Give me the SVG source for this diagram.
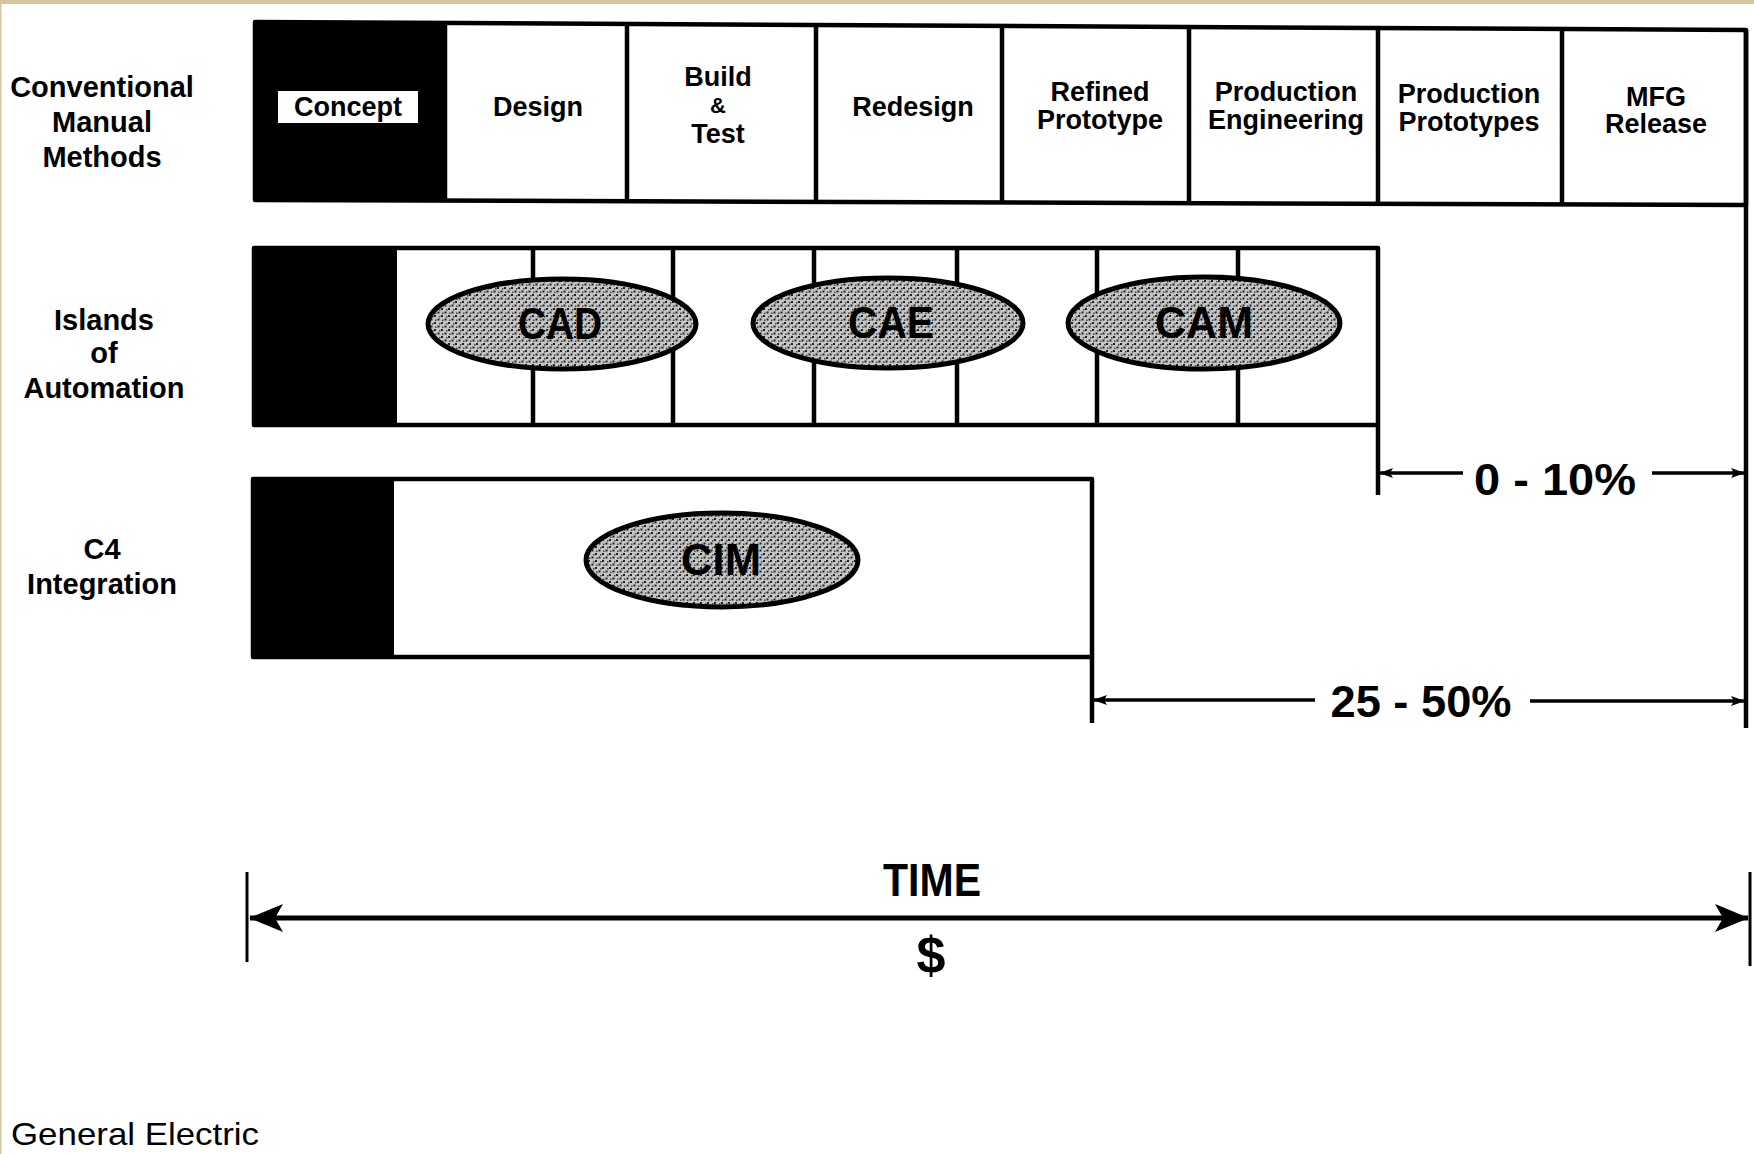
<svg xmlns="http://www.w3.org/2000/svg" width="1754" height="1154" viewBox="0 0 1754 1154">
<defs>
<style>
.lbl{font-family:"Liberation Sans",Arial,sans-serif;font-weight:bold;fill:#000;text-anchor:middle}
.side{font-size:29px}
.cell{font-size:27px}
.big{font-size:44px}
.oval{font-size:45px}
.box{fill:#fff;stroke:#000;stroke-width:4.5;stroke-linejoin:round}
.blk{fill:#000}
.div{stroke:#000;stroke-width:4.5;fill:none}
.ell{fill:url(#speck);stroke:#000;stroke-width:5}
.dim{stroke:#000;stroke-width:3.5;fill:none}
.axis{stroke:#000;stroke-width:5;fill:none}
.tick{stroke:#000;stroke-width:3;fill:none}
</style>
<pattern id="speck" width="7" height="7" patternUnits="userSpaceOnUse">
<rect width="7" height="7" fill="#c4c4c4"/>
<rect x="0" y="0" width="2" height="2" fill="#222"/>
<rect x="3.5" y="3.5" width="2" height="2" fill="#222"/>
<rect x="1" y="4.5" width="1.5" height="1.5" fill="#444"/>
<rect x="5" y="1" width="1.5" height="1.5" fill="#444"/>
</pattern>
<marker id="dimArrow" viewBox="0 0 14 10" markerWidth="14" markerHeight="10" refX="13" refY="5" orient="auto-start-reverse" markerUnits="userSpaceOnUse">
<path d="M0,0 L14,5 L0,10 L3,5 Z" fill="#000"/>
</marker>
<marker id="timeArrow" viewBox="0 0 34 28" markerWidth="34" markerHeight="28" refX="33" refY="14" orient="auto-start-reverse" markerUnits="userSpaceOnUse">
<path d="M0,0 L34,14 L0,28 L8,14 Z" fill="#000"/>
</marker>
</defs>

<rect x="0" y="0" width="1754" height="1154" fill="#fff"/>
<rect x="0" y="0" width="1754" height="4" fill="#d6c6a0"/>
<rect x="0" y="0" width="1.5" height="1154" fill="#d6c6a0"/>

<!-- Row labels -->
<g id="label-conventional">
<text class="lbl side" x="102" y="97">Conventional</text>
<text class="lbl side" x="102" y="132">Manual</text>
<text class="lbl side" x="102" y="167">Methods</text>
</g>
<g id="label-islands">
<text class="lbl side" x="104" y="330">Islands</text>
<text class="lbl side" x="104" y="363">of</text>
<text class="lbl side" x="104" y="398">Automation</text>
</g>
<g id="label-c4">
<text class="lbl side" x="102" y="559">C4</text>
<text class="lbl side" x="102" y="594">Integration</text>
</g>

<!-- Row 1: conventional -->
<g id="row-conventional">
<polygon class="box" points="255,22 1746,30 1746,205 255,200"/>
<rect class="blk" x="255" y="22" width="190" height="178"/>
<path class="div" d="M445,23 V201 M627,24 V201 M816,25 V202 M1002,26 V203 M1189,27 V203 M1378,28 V204 M1562,29 V205"/>
</g>
<g id="node-concept">
<rect x="278" y="91" width="140" height="32" fill="#fff"/>
<text class="lbl cell" x="348" y="116">Concept</text>
</g>
<g id="node-design"><text class="lbl cell" x="538" y="116">Design</text></g>
<g id="node-build-test">
<text class="lbl cell" x="718" y="86">Build</text>
<text class="lbl cell" x="718" y="113" style="font-size:22px">&amp;</text>
<text class="lbl cell" x="718" y="143">Test</text>
</g>
<g id="node-redesign"><text class="lbl cell" x="913" y="116">Redesign</text></g>
<g id="node-refined-prototype">
<text class="lbl cell" x="1100" y="101">Refined</text>
<text class="lbl cell" x="1100" y="129">Prototype</text>
</g>
<g id="node-production-engineering">
<text class="lbl cell" x="1286" y="101">Production</text>
<text class="lbl cell" x="1286" y="129">Engineering</text>
</g>
<g id="node-production-prototypes">
<text class="lbl cell" x="1469" y="103">Production</text>
<text class="lbl cell" x="1469" y="131">Prototypes</text>
</g>
<g id="node-mfg-release">
<text class="lbl cell" x="1656" y="106">MFG</text>
<text class="lbl cell" x="1656" y="133">Release</text>
</g>

<!-- Row 2: islands of automation -->
<g id="row-islands">
<rect class="box" x="254" y="248" width="1124" height="177"/>
<rect class="blk" x="254" y="248" width="143" height="177"/>
<path class="div" d="M533,248 V425 M673,248 V425 M814,248 V425 M957,248 V425 M1097,248 V425 M1238,248 V425"/>
</g>
<g id="node-cad">
<ellipse class="ell" cx="562" cy="324" rx="134" ry="45"/>
<text class="lbl oval" x="560" y="339" textLength="84" lengthAdjust="spacingAndGlyphs">CAD</text>
</g>
<g id="node-cae">
<ellipse class="ell" cx="888" cy="323" rx="135" ry="45"/>
<text class="lbl oval" x="891" y="338" textLength="86" lengthAdjust="spacingAndGlyphs">CAE</text>
</g>
<g id="node-cam">
<ellipse class="ell" cx="1204" cy="323" rx="136" ry="46"/>
<text class="lbl oval" x="1204" y="338" textLength="98" lengthAdjust="spacingAndGlyphs">CAM</text>
</g>

<!-- Row 3: C4 integration -->
<g id="row-c4">
<rect class="box" x="253" y="479" width="839" height="178"/>
<rect class="blk" x="253" y="479" width="141" height="178"/>
</g>
<g id="node-cim">
<ellipse class="ell" cx="722" cy="560" rx="136" ry="47"/>
<text class="lbl oval" x="721" y="575" textLength="80" lengthAdjust="spacingAndGlyphs">CIM</text>
</g>

<!-- Connectors / dimensions -->
<g id="connectors">
<path class="div" d="M1746,30 V728"/>
<path class="div" d="M1378,425 V495"/>
<path class="div" d="M1092,657 V723"/>
<line class="dim" x1="1380" y1="473" x2="1463" y2="473" marker-start="url(#dimArrow)"/>
<line class="dim" x1="1652" y1="473" x2="1744" y2="473" marker-end="url(#dimArrow)"/>
<line class="dim" x1="1094" y1="700" x2="1315" y2="700" marker-start="url(#dimArrow)"/>
<line class="dim" x1="1530" y1="701" x2="1744" y2="701" marker-end="url(#dimArrow)"/>
<path class="tick" d="M247,872 V962 M1750,872 V966"/>
<line class="axis" x1="250" y1="918" x2="1748" y2="918" marker-start="url(#timeArrow)" marker-end="url(#timeArrow)"/>
</g>

<g id="label-0-10">
<text class="lbl big" x="1555" y="495" textLength="162" lengthAdjust="spacingAndGlyphs">0 - 10%</text>
</g>
<g id="label-25-50">
<text class="lbl big" x="1421" y="717" textLength="181" lengthAdjust="spacingAndGlyphs">25 - 50%</text>
</g>
<g id="label-time">
<text class="lbl" style="font-size:46px" x="932" y="896" textLength="98" lengthAdjust="spacingAndGlyphs">TIME</text>
</g>
<g id="label-dollar">
<text class="lbl" style="font-size:52px" x="931" y="973">$</text>
</g>
<g id="label-ge">
<text x="11" y="1145" style="font-family:'Liberation Sans',Arial,sans-serif;font-size:32px;fill:#000" textLength="248" lengthAdjust="spacingAndGlyphs">General Electric</text>
</g>
</svg>
